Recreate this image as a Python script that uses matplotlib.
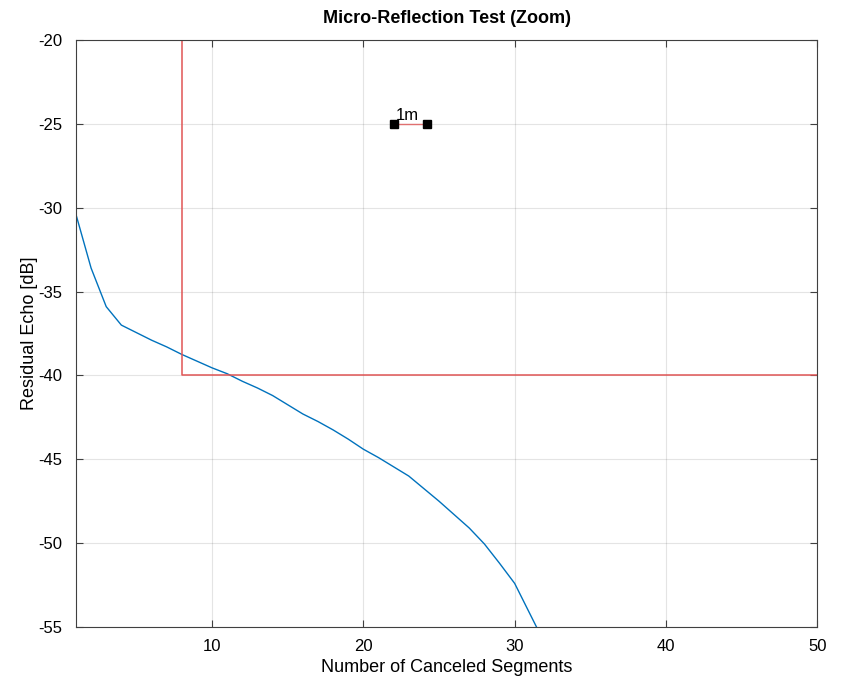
import numpy as np
import matplotlib.pyplot as plt

plt.rcParams['font.family'] = ['Liberation Sans', 'DejaVu Sans']
plt.rcParams['axes.unicode_minus'] = False

# residual echo vs number of canceled segments
segments = np.arange(1, 33)
residual_db = [-30.4, -33.6, -35.9, -37.0, -37.45, -37.9, -38.3, -38.75,
               -39.15, -39.55, -39.9, -40.35, -40.75, -41.2, -41.75, -42.3,
               -42.75, -43.25, -43.8, -44.4, -44.9, -45.45, -46.0, -46.75,
               -47.5, -48.3, -49.1, -50.05, -51.2, -52.4, -54.2, -56.0]

# requirement mask
mask_x = [8, 8, 50]
mask_y = [-10, -40, -40]

# 1m scale marker
scale_x = [22, 24.2]
scale_y = [-25, -25]

fig = plt.figure(figsize=(8.45, 6.79), dpi=100)
ax = fig.add_axes([0.0899, 0.0766, 0.8772, 0.8645])

ax.plot(segments, residual_db, color='#0072BD', lw=1.0)
ax.plot(mask_x, mask_y, color='#E05555', lw=1.1)
ax.plot(scale_x, scale_y, color='#E07070', lw=1.0, marker='s',
        markersize=6, markerfacecolor='black', markeredgecolor='black')
ax.text(np.mean(scale_x) - 0.2, scale_y[0] + 0.05, '1m', ha='center', va='bottom',
        fontsize=12)

ax.set_xlim(1, 50)
ax.set_ylim(-55, -20)
ax.set_xticks([10, 20, 30, 40, 50])
ax.set_yticks(np.arange(-55, -19, 5))
ax.grid(True, color='#262626', alpha=0.12, lw=0.8)
ax.tick_params(direction='in', top=True, right=True, labelsize=12,
               color='#404040', length=5)
ax.tick_params(axis='x', pad=9)
ax.tick_params(axis='y', pad=10)
for s in ax.spines.values():
    s.set_color('#404040')

ax.set_xlabel('Number of Canceled Segments', fontsize=13, labelpad=3)
ax.set_ylabel('Residual Echo [dB]', fontsize=13, labelpad=0)
ax.set_title('Micro-Reflection Test (Zoom)', fontsize=13, fontweight='bold', pad=12)

fig.savefig('out.png', dpi=100)
